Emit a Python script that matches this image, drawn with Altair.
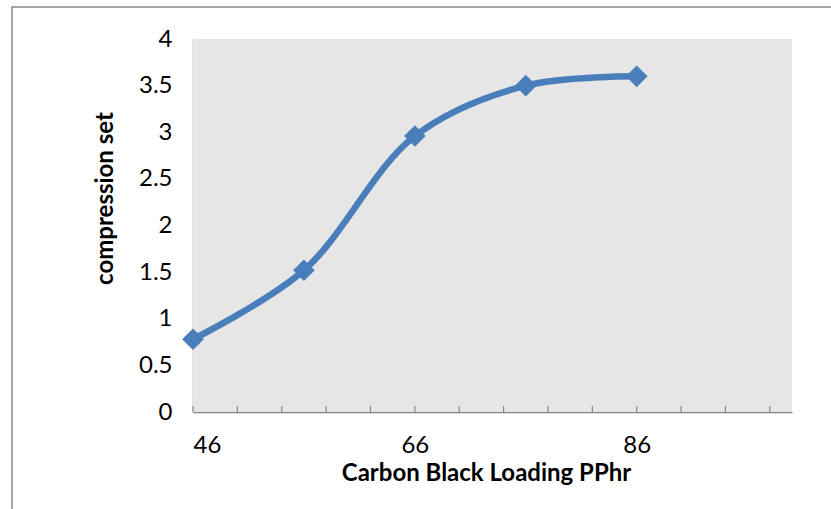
import altair as alt
import pandas as pd

loading = [46, 56, 66, 76, 86]
compression_set = [0.78, 1.52, 2.96, 3.50, 3.60]
x_label_values = [46, 66, 86]
x_tick_values = [46, 50, 54, 58, 62, 66, 70, 74, 78, 82, 86, 90, 94, 98]
y_label_values = [0, 0.5, 1, 1.5, 2, 2.5, 3, 3.5, 4]

df = pd.DataFrame({"x": loading, "y": compression_set})
ticks = pd.DataFrame({"t": x_tick_values})

W, H = 599, 373
FONT = "Lato"
BLUE = "#4a7ebb"
GRAY = "#868686"
FS = 24

xscale = alt.Scale(domain=[46, 100], nice=False, zero=False)
yscale = alt.Scale(domain=[0, 4], nice=False)

x_axis = alt.Axis(
    values=x_label_values, tickSize=0, labelPadding=21, labelFontSize=FS,
    labelFont=FONT, labelColor="black", domainColor=GRAY, domainWidth=1.5,
    grid=False, title="Carbon Black Loading PPhr", titleFont=FONT,
    titleFontSize=FS, titleFontWeight="bold", titleColor="black",
    titleX=293, titleY=49, titleBaseline="top", titleAlign="center",
)
y_axis = alt.Axis(
    values=y_label_values, format="~g", tickSize=0, labelPadding=21,
    labelFontSize=FS, labelFont=FONT, labelColor="black", domainColor=GRAY,
    domainWidth=1.5, grid=False, title="compression set", titleFont=FONT,
    titleFontSize=FS, titleFontWeight="bold", titleColor="black",
    titleAngle=270, titleX=-88, titleY=159, titleBaseline="middle",
    titleAlign="center",
)

one = pd.DataFrame({"a": [0]})

border = alt.Chart(one).mark_rect(
    filled=False, stroke=GRAY, strokeWidth=1.5
).encode(
    x=alt.value(12 - 193), x2=alt.value(900), y=alt.value(7 - 39), y2=alt.value(600)
)

plot_bg = alt.Chart(one).mark_rect(color="#e6e6e6").encode(
    x=alt.value(0), x2=alt.value(W), y=alt.value(0), y2=alt.value(H)
)

tick_marks = alt.Chart(ticks).mark_rule(color=GRAY, strokeWidth=1.2).encode(
    x=alt.X("t:Q", scale=xscale, axis=x_axis),
    y=alt.value(H), y2=alt.value(H - 6),
)

line = alt.Chart(df).mark_line(
    color=BLUE, strokeWidth=6.5, interpolate="catmull-rom"
).encode(
    x=alt.X("x:Q", scale=xscale, axis=x_axis),
    y=alt.Y("y:Q", scale=yscale, axis=y_axis),
)

points = alt.Chart(df).mark_point(
    shape="diamond", filled=True, size=470, color=BLUE, opacity=1
).encode(
    x=alt.X("x:Q", scale=xscale, axis=x_axis),
    y=alt.Y("y:Q", scale=yscale, axis=y_axis),
)

chart = alt.layer(border, plot_bg, tick_marks, line, points).properties(
    width=W, height=H,
    background="white",
    autosize=alt.AutoSizeParams(type="none"),
    padding={"left": 193, "top": 39, "right": 39, "bottom": 97},
).configure_view(stroke=None)

chart.save("out.html", embed_options={"renderer": "svg", "actions": False})
